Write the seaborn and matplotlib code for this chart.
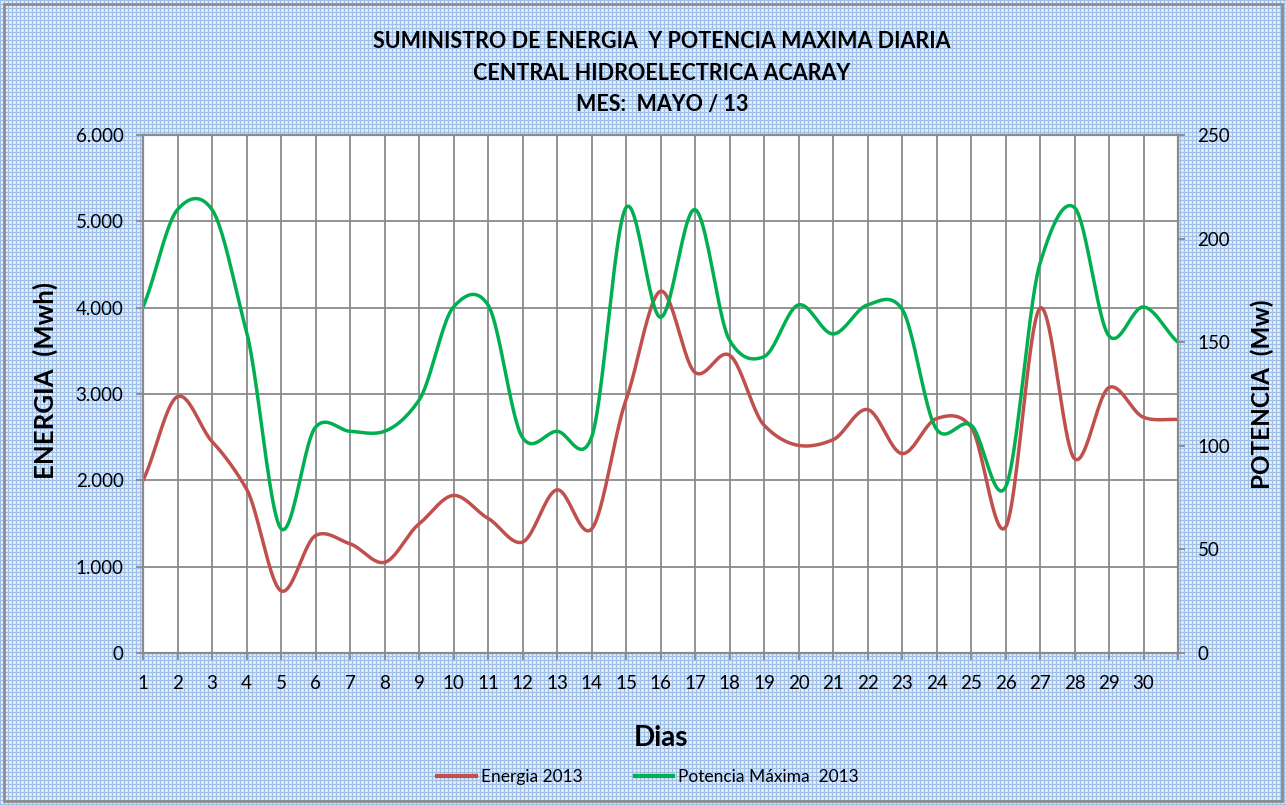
import numpy as np
import pandas as pd
import matplotlib
matplotlib.use("Agg")
import matplotlib.pyplot as plt
from matplotlib.lines import Line2D
from matplotlib.patches import Rectangle
from matplotlib.ticker import FuncFormatter
import seaborn as sns

#Data (May 2013, daily values)
dias = list(range(1, 32))
dia_labels = [str(d) for d in range(1, 31)] + [""]
energia = [2000, 2970, 2450, 1900, 720, 1360, 1265, 1050, 1495, 1825,
           1560, 1285, 1890, 1435, 2930, 4190, 3250, 3450, 2640, 2405,
           2470, 2820, 2310, 2715, 2620, 1455, 3995, 2250, 3075, 2730,
           2705]
potencia = [167, 214, 214, 155, 60, 109, 107, 107, 122, 167,
            168, 104, 107, 104, 215, 162, 214, 151, 143, 168,
            154, 168, 166, 108, 110, 80, 188, 215, 153, 167,
            150]

ROJO = "#c0504d"
VERDE = "#00b050"
GRIS = "#8a8a8a"

plt.rcParams["font.family"] = ["Lato", "DejaVu Sans"]


#Smoothed line like the spreadsheet's "smoothed line" option (cubic hermite)
def smooth_curve(x, y, n=24, tension=0.8):
    x = np.asarray(x, float)
    y = np.asarray(y, float)
    m = np.gradient(y) * tension
    xs, ys = [], []
    for i in range(len(y) - 1):
        t = np.linspace(0, 1, n, endpoint=False)
        h00 = 2 * t**3 - 3 * t**2 + 1
        h10 = t**3 - 2 * t**2 + t
        h01 = -2 * t**3 + 3 * t**2
        h11 = t**3 - t**2
        xs.append(x[i] + t * (x[i + 1] - x[i]))
        ys.append(h00 * y[i] + h10 * m[i] + h01 * y[i + 1] + h11 * m[i + 1])
    xs.append([x[-1]])
    ys.append([y[-1]])
    return np.concatenate(xs), np.concatenate(ys)


xe, ye = smooth_curve(dias, energia)
xp, yp = smooth_curve(dias, potencia)
df_e = pd.DataFrame({"dia": xe, "valor": ye})
df_p = pd.DataFrame({"dia": xp, "valor": yp})

W, H = 1286, 805
fig = plt.figure(figsize=(W / 100, H / 100), dpi=100)

#Blue grid-paper background
bg = np.empty((H, W, 3))
bg[:] = [0.85, 0.90, 0.96]
bg[::4, :] = [0.62, 0.75, 0.91]
bg[:, ::4] = [0.62, 0.75, 0.91]
bg[2::4, 2::4] = [0.97, 0.98, 1.0]
fig.figimage(bg, 0, 0, zorder=-5)
fig.patches.append(Rectangle((4 / W, 4 / H), 1 - 8 / W, 1 - 8 / H,
                             transform=fig.transFigure, fill=False,
                             edgecolor="#8c8c8c", linewidth=2, zorder=-1))

ax = fig.add_axes([143 / W, (H - 653) / H, (1178 - 143) / W, 518 / H])
ax.set_facecolor("white")
ax2 = ax.twinx()

sns.lineplot(data=df_e, x="dia", y="valor", ax=ax, color=ROJO,
             linewidth=2.5, sort=False)
sns.lineplot(data=df_p, x="dia", y="valor", ax=ax2, color=VERDE,
             linewidth=2.5, sort=False)

ax.set_xlim(1, 31)
ax.set_ylim(0, 6000)
ax2.set_ylim(0, 250)
ax.set_xticks(dias)
ax.set_xticklabels(dia_labels)
ax.set_yticks(range(0, 6001, 1000))
ax.yaxis.set_major_formatter(FuncFormatter(lambda v, p: f"{int(v):,}".replace(",", ".")))
ax2.set_yticks(range(0, 251, 50))

ax.grid(True, color=GRIS, linewidth=1.3)
ax.set_axisbelow(True)
ax.set_xlabel("")
ax.set_ylabel("")
ax2.set_ylabel("")

for a in (ax, ax2):
    for s in a.spines.values():
        s.set_color(GRIS)
        s.set_linewidth(1.5)
ax.tick_params(axis="x", direction="out", length=5, width=1.3, color=GRIS,
               labelsize=13.5, pad=11)
ax.tick_params(axis="y", direction="out", length=5, width=1.3, color=GRIS,
               labelsize=13.5, pad=9)
ax2.tick_params(axis="y", direction="out", length=5, width=1.3, color=GRIS,
                labelsize=13.5, pad=9)

#Titles and axis labels
titulos = ["SUMINISTRO DE ENERGIA  Y POTENCIA MAXIMA DIARIA",
           "CENTRAL HIDROELECTRICA ACARAY",
           "MES:  MAYO / 13"]
for i, t in enumerate(titulos):
    fig.text(662 / W, 1 - (42 + 31 * i) / H, t, ha="center", va="center",
             fontsize=15.5, fontweight="bold")
fig.text(45 / W, 1 - 380 / H, "ENERGIA  (Mwh)", rotation=90, ha="center",
         va="center", fontsize=18.5, fontweight="bold")
fig.text(1262 / W, 1 - 394 / H, "POTENCIA  (Mw)", rotation=90, ha="center",
         va="center", fontsize=17.5, fontweight="bold")
fig.text(661 / W, 1 - 738 / H, "Dias", ha="center", va="center",
         fontsize=20, fontweight="bold")

handles = [Line2D([], [], color=ROJO, linewidth=3),
           Line2D([], [], color=VERDE, linewidth=3)]
fig.legend(handles, ["Energia 2013", "Potencia Máxima  2013"],
           loc="center", bbox_to_anchor=(648 / W, 1 - 777 / H), ncol=2,
           frameon=False, fontsize=12.5, handlelength=2.2,
           handletextpad=0.3, columnspacing=3)

plt.savefig("out.png", dpi=100)
